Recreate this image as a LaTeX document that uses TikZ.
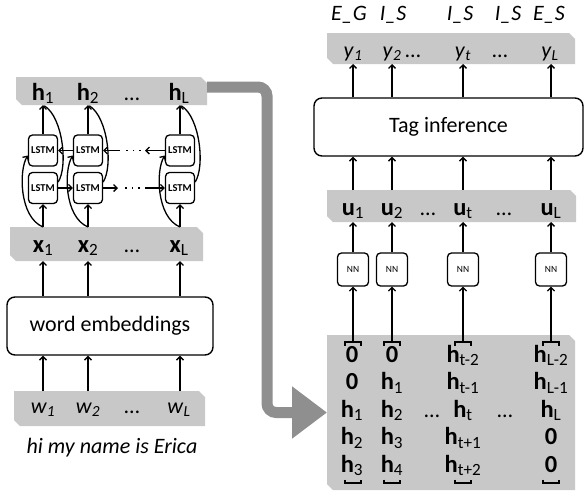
\documentclass[tikz,border=0pt]{standalone}
\usepackage{fontspec}
\setmainfont{Carlito}
\usetikzlibrary{arrows.meta}
\definecolor{barfill}{RGB}{200,200,200}
\definecolor{bigarr}{RGB}{143,143,143}
\newcommand{\bh}[1]{\textbf{h}\textsubscript{#1}}
\newcommand{\bx}[1]{\textbf{x}\textsubscript{#1}}
\newcommand{\bu}[1]{\textbf{u}\textsubscript{#1}}
\newcommand{\iy}[1]{\textit{y}\textsubscript{\textit{#1}}}
\newcommand{\iw}[1]{\textit{w}\textsubscript{\textit{#1}}}
\newcommand{\bz}{\textbf{0}}
\begin{document}
\begin{tikzpicture}[x=1pt,y=-1pt,
  chambar/.style={inner sep=0pt, outer sep=0pt,
    path picture={\fill[barfill] (path picture bounding box.north west)
      -- ([xshift=-6pt]path picture bounding box.north east)
      -- ([yshift=-6pt]path picture bounding box.north east)
      -- (path picture bounding box.south east)
      -- ([xshift=6pt]path picture bounding box.south west)
      -- ([yshift=6pt]path picture bounding box.south west) -- cycle;}},
  lab/.style={inner sep=0pt, anchor=base, font=\fontsize{22}{26}\selectfont},
  blab/.style={inner sep=0pt, anchor=base, font=\fontsize{24.5}{28}\selectfont},
  arr/.style={line width=1.3pt, -{Straight Barb[length=3.5pt,width=7pt,line width=1.3pt]}},
  plain/.style={line width=1.3pt},
  dotline/.style={line width=1.6pt, dash pattern=on 1.6pt off 5pt},
  bigbox/.style={draw, line width=1.4pt, rounded corners=8pt, inner sep=0pt, font=\fontsize{22}{26}\selectfont},
  lstm/.style={draw, line width=1.3pt, rounded corners=4pt, minimum width=29pt, minimum height=31pt, inner sep=0pt, font=\fontsize{10.5}{12}\selectfont\bfseries},
  nn/.style={draw, line width=1.3pt, rounded corners=4pt, minimum width=31pt, minimum height=33pt, inner sep=0pt, font=\fontsize{9.5}{11}\selectfont},
  brk/.style={line width=1.6pt},
]
\useasboundingbox (0,0) rectangle (584,493);

% bars (named nodes)
\node[chambar, minimum width=191pt, minimum height=28pt] (hbar) at (111.5,91) {};
\node[chambar, minimum width=193pt, minimum height=34pt] (xbar) at (106.5,244) {};
\node[chambar, minimum width=191pt, minimum height=35pt] (wbar) at (109.5,408.5) {};
\node[chambar, minimum width=248pt, minimum height=31pt] (ybar) at (451,48.5) {};
\node[chambar, minimum width=249pt, minimum height=32pt] (ubar) at (451.5,206) {};
\node[chambar, minimum width=248pt, minimum height=155pt] (mbar) at (451,412.5) {};

% big gray arrow
\draw[bigarr, line width=11pt, rounded corners=9pt, -{Triangle[length=35pt,width=50pt]}]
  ([yshift=4pt]hbar.east) -- (267,87) -- (267,412.5) -- (mbar.west);

% left: h bar labels
\node[blab] (h1) at (43,100) {\bh{1}};
\node[blab] (h2) at (88,100) {\bh{2}};
\node[lab] (hd) at (132,100) {…};
\node[blab] (hL) at (179,100) {\bh{L}};

% LSTM cells
\node[lstm] (up1) at (43,150.5) {LSTM};
\node[lstm] (lo1) at (43,188) {LSTM};
\node[lstm] (up2) at (88,150.5) {LSTM};
\node[lstm] (lo2) at (88,188) {LSTM};
\node[lstm] (upL) at (180,150.5) {LSTM};
\node[lstm] (loL) at (180,188) {LSTM};

% x bar labels
\node[blab] (x1) at (43,252) {\bx{1}};
\node[blab] (x2) at (88,252) {\bx{2}};
\node[lab] (xd) at (132,252) {…};
\node[blab] (xL) at (179,252) {\bx{L}};

% word embeddings
\node[bigbox, minimum width=206pt, minimum height=58pt] (emb) at (110,326) {word embeddings};

% w bar labels
\node[lab] (w1) at (43,413) {\iw{1}};
\node[lab] (w2) at (88,413) {\iw{2}};
\node[lab] (wd) at (132,413) {…};
\node[lab] (wL) at (179,413) {\iw{L}};
\node[lab, font=\fontsize{22}{26}\selectfont\itshape] (cap) at (112,453) {hi my name is Erica};

% left connectors
\foreach \c in {1,2,L}{
  \draw[arr] (wbar.north -| lo\c) -- (emb.south -| lo\c);
  \draw[arr] (emb.north -| lo\c) -- (xbar.south -| lo\c);
  \draw[arr] (xbar.north -| lo\c) -- (lo\c.south);
  \draw[arr] (up\c.north) -- (hbar.south -| up\c);
  \draw[arr] (xbar.north -| lo\c) .. controls +(-24,-10) and +(-9,14) .. ([yshift=-5pt]up\c.west);
  \draw[plain, shorten >=1.5pt] ([yshift=6pt]lo\c.east) .. controls +(10,-15) and +(20,12) .. (hbar.south -| up\c);
}
% horizontal recurrences
\coordinate (la) at (118,188);
\coordinate (lb) at (125,188);
\coordinate (lc) at (141,188);
\coordinate (ld) at (145,188);
\draw[arr] (lo1) -- (lo2);
\draw[arr] (lo2) -- (la);
\draw[dotline] (lb) -- (lc);
\draw[arr] (ld) -- (loL);
\coordinate (ua) at (145,150.5);
\coordinate (ub) at (141,150.5);
\coordinate (uc) at (125,150.5);
\coordinate (ud) at (120,150.5);
\draw[arr] (upL) -- (ua);
\draw[dotline] (ub) -- (uc);
\draw[arr] (ud) -- (up2);
\draw[arr] (up2) -- (up1);

% right: top tags
\node[lab, font=\fontsize{22}{26}\selectfont\itshape] (t1) at (349,20) {E\_G};
\node[lab, font=\fontsize{22}{26}\selectfont\itshape] (t2) at (393,20) {I\_S};
\node[lab, font=\fontsize{22}{26}\selectfont\itshape] (t3) at (460,20) {I\_S};
\node[lab, font=\fontsize{22}{26}\selectfont\itshape] (t4) at (508,20) {I\_S};
\node[lab, font=\fontsize{22}{26}\selectfont\itshape] (t5) at (549,20) {E\_S};

% y bar labels
\node[lab] (y1) at (353,57) {\iy{1}};
\node[lab] (y2) at (392,57) {\iy{2}};
\node[lab] (yd1) at (413,57) {…};
\node[lab] (yt) at (463,57) {\iy{t}};
\node[lab] (yd2) at (500,57) {…};
\node[lab] (yL) at (550,57) {\iy{L}};

% tag inference
\node[bigbox, minimum width=269pt, minimum height=58pt] (tag) at (448.5,127) {Tag inference};

% u bar labels
\node[blab] (u1) at (353,215) {\bu{1}};
\node[blab] (u2) at (392,215) {\bu{2}};
\node[lab] (ud1) at (428,215) {…};
\node[blab] (ut) at (463,215) {\bu{t}};
\node[lab] (ud2) at (504,215) {…};
\node[blab] (uL) at (551,215) {\bu{L}};

% NN boxes
\node[nn] (n1) at (353,269.5) {NN};
\node[nn] (n2) at (392,269.5) {NN};
\node[nn] (nt) at (463,269.5) {NN};
\node[nn] (nL) at (551,269.5) {NN};

% matrix entries
\node[blab] (m11) at (352,362) {\bz};
\node[blab] (m12) at (352,389.5) {\bz};
\node[blab] (m13) at (352,417) {\bh{1}};
\node[blab] (m14) at (352,444.5) {\bh{2}};
\node[blab] (m15) at (352,472) {\bh{3}};
\node[blab] (m21) at (392,362) {\bz};
\node[blab] (m22) at (392,389.5) {\bh{1}};
\node[blab] (m23) at (392,417) {\bh{2}};
\node[blab] (m24) at (392,444.5) {\bh{3}};
\node[blab] (m25) at (392,472) {\bh{4}};
\node[lab] (md1) at (432,417) {…};
\node[blab] (mt1) at (463,362) {\bh{t-2}};
\node[blab] (mt2) at (463,389.5) {\bh{t-1}};
\node[blab] (mt3) at (463,417) {\bh{t}};
\node[blab] (mt4) at (463,444.5) {\bh{t+1}};
\node[blab] (mt5) at (463,472) {\bh{t+2}};
\node[lab] (md2) at (505,417) {…};
\node[blab] (mL1) at (551,362) {\bh{L-2}};
\node[blab] (mL2) at (551,389.5) {\bh{L-1}};
\node[blab] (mL3) at (551,417) {\bh{L}};
\node[blab] (mL4) at (551,444.5) {\bz};
\node[blab] (mL5) at (551,472) {\bz};

% brackets and right connectors
\foreach \n/\cx in {1/353,2/392,t/463,L/551}{
  \coordinate (bt\n) at (\cx,342);
  \draw[brk] (\cx-8,345.5) -- (\cx-8,342) -- (\cx+8,342) -- (\cx+8,345.5);
  \draw[brk] (\cx-8,479.5) -- (\cx-8,483) -- (\cx+8,483) -- (\cx+8,479.5);
  \draw[arr] (bt\n) -- (n\n.south);
  \draw[arr] (n\n.north) -- (ubar.south -| n\n);
  \draw[arr] (ubar.north -| n\n) -- (tag.south -| n\n);
  \draw[arr] (tag.north -| n\n) -- (ybar.south -| n\n);
}
\end{tikzpicture}
\end{document}
